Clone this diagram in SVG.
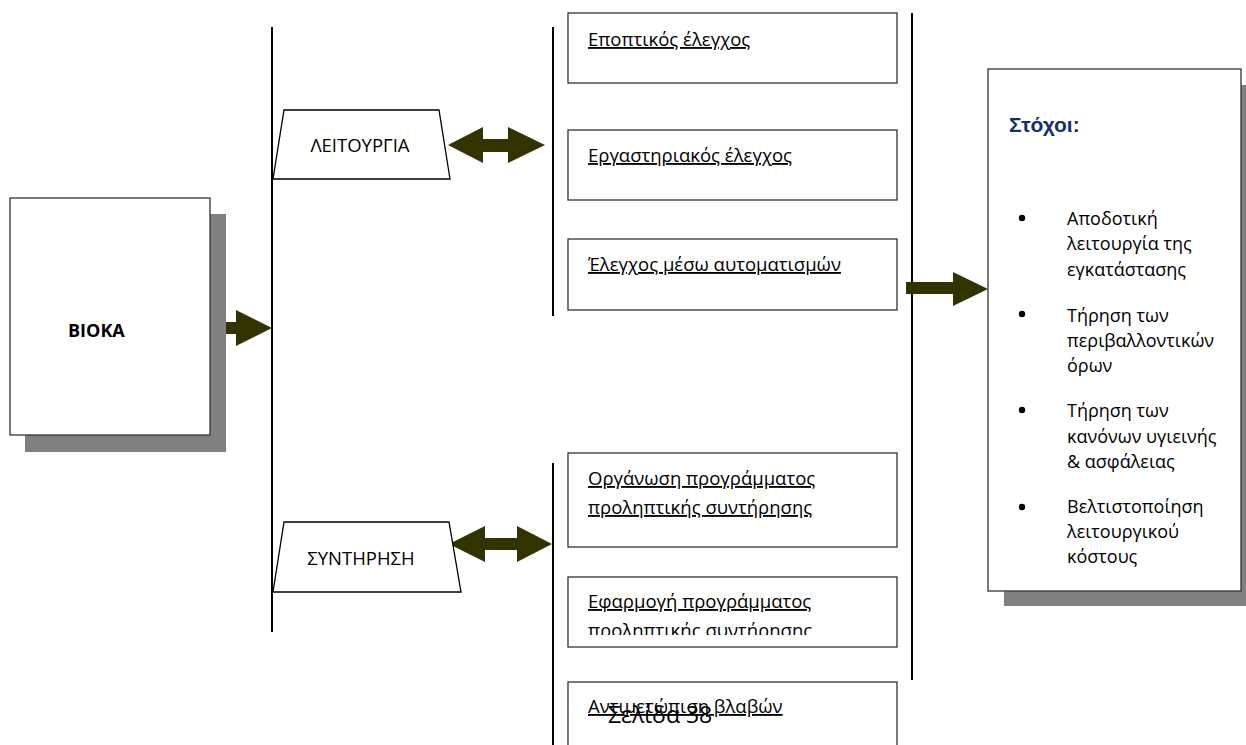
<svg xmlns="http://www.w3.org/2000/svg" width="1246" height="745" viewBox="0 0 1246 745">
<style>
.box{fill:#fff;stroke:#333;stroke-width:1.3}
.shadow{fill:#808080}
.line{stroke:#000;stroke-width:2;fill:none}
.arrow{fill:#333300}
.trap{fill:#fff;stroke:#000;stroke-width:1.3}
.lbl{font-family:"Open Sans","Noto Sans",sans-serif;font-size:18.5px;fill:#000;text-decoration:underline;text-decoration-thickness:2px}
.cap{font-family:"Open Sans","Noto Sans",sans-serif;font-size:18.5px;fill:#000}
.goal{font-family:"Open Sans","Noto Sans",sans-serif;font-size:18px;fill:#000}
</style>
<defs>
<clipPath id="clip5"><rect x="568" y="578" width="329" height="57"/></clipPath>
</defs>
<rect width="1246" height="745" fill="#fff"/>

<g id="connectors">
<line class="line" x1="272" y1="27" x2="272" y2="632"/>
<line class="line" x1="553" y1="27" x2="553" y2="316"/>
<line class="line" x1="553" y1="463" x2="553" y2="745"/>
<line class="line" x1="912" y1="13" x2="912" y2="680"/>
<polygon class="arrow" points="212,322 236,322 236,310 272,328 236,346 236,334 212,334"/>
<polygon class="arrow" points="448,145 483,127 483,139 508,139 508,127 545,145 508,163 508,152 483,152 483,163"/>
<polygon class="arrow" points="449,544 485,526 485,538 517,538 517,526 552,544 517,562 517,550 485,550 485,562"/>
<polygon class="arrow" points="906,282 953,282 953,272 988,289 953,306 953,294 906,294"/>
</g>

<g id="bioka">
<rect class="shadow" x="25" y="214" width="201" height="238"/>
<rect class="box" x="10" y="198" width="200" height="237"/>
<text x="68" y="337" font-family="'Open Sans','Noto Sans',sans-serif" font-size="18" font-weight="bold">BIOKA</text>
</g>

<g id="leitourgia">
<polygon class="trap" points="284,110 439,110 450,179 273,179"/>
<text class="cap" x="360" y="152" text-anchor="middle">ΛΕΙΤΟΥΡΓΙΑ</text>
</g>

<g id="syntirisi">
<polygon class="trap" points="284,522 449,522 461,592 273,592"/>
<text class="cap" x="361" y="565" text-anchor="middle">ΣΥΝΤΗΡΗΣΗ</text>
</g>

<g id="box1">
<rect class="box" x="568" y="13" width="329" height="70"/>
<text class="lbl" x="588" y="46">Εποπτικός έλεγχος</text>
</g>
<g id="box2">
<rect class="box" x="568" y="130" width="329" height="70"/>
<text class="lbl" x="588" y="162">Εργαστηριακός έλεγχος</text>
</g>
<g id="box3">
<rect class="box" x="568" y="239" width="329" height="71"/>
<text class="lbl" x="588" y="271">Έλεγχος μέσω αυτοματισμών</text>
</g>
<g id="box4">
<rect class="box" x="568" y="453" width="329" height="94"/>
<text class="lbl" x="588" y="485">Οργάνωση προγράμματος</text>
<text class="lbl" x="588" y="514">προληπτικής συντήρησης</text>
</g>
<g id="box5">
<rect class="box" x="568" y="577" width="329" height="70"/>
<text class="lbl" x="588" y="608">Εφαρμογή προγράμματος</text>
<text class="lbl" x="588" y="637" clip-path="url(#clip5)">προληπτικής συντήρησης</text>
</g>
<g id="box6">
<rect class="box" x="568" y="682" width="329" height="80"/>
<text class="lbl" x="588" y="713">Αντιμετώπιση βλαβών</text>
</g>

<g id="stoxoi">
<rect class="shadow" x="1004" y="85" width="252" height="521"/>
<rect class="box" x="988" y="69" width="253" height="522"/>
<text x="1009" y="132" font-family="'Liberation Sans',Arial,sans-serif" font-size="21" font-weight="bold" fill="#14306B">Στόχοι:</text>
<circle cx="1022" cy="218" r="3.2" fill="#000"/>
<text class="goal" x="1067" y="225">Αποδοτική</text>
<text class="goal" x="1067" y="250">λειτουργία της</text>
<text class="goal" x="1067" y="276">εγκατάστασης</text>
<circle cx="1022" cy="314" r="3.2" fill="#000"/>
<text class="goal" x="1067" y="322">Τήρηση των</text>
<text class="goal" x="1067" y="347">περιβαλλοντικών</text>
<text class="goal" x="1067" y="372">όρων</text>
<circle cx="1022" cy="410" r="3.2" fill="#000"/>
<text class="goal" x="1067" y="417">Τήρηση των</text>
<text class="goal" x="1067" y="443">κανόνων υγιεινής</text>
<text class="goal" x="1067" y="468">&amp; ασφάλειας</text>
<circle cx="1022" cy="507" r="3.2" fill="#000"/>
<text class="goal" x="1067" y="513">Βελτιστοποίηση</text>
<text class="goal" x="1067" y="538">λειτουργικού</text>
<text class="goal" x="1067" y="563">κόστους</text>
</g>

<g id="page">
<text x="608" y="723" font-family="'Open Sans','Noto Sans',sans-serif" font-size="23" fill="#000">Σελίδα 38</text>
</g>
</svg>
